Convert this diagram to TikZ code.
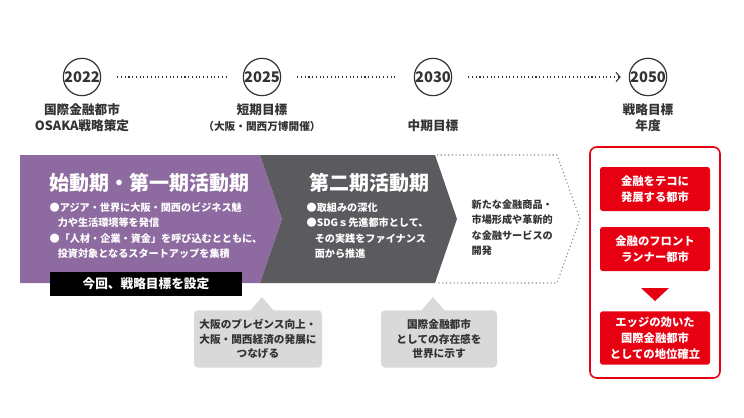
\documentclass[tikz,border=0pt]{standalone}
\usepackage{fontspec}
\setmainfont{Noto Sans CJK JP}
\usetikzlibrary{arrows.meta}
\definecolor{purp}{HTML}{8D6A9F}
\definecolor{dgray}{HTML}{5B5B5F}
\definecolor{lgray}{HTML}{D9D9D9}
\definecolor{red1}{HTML}{E60012}
\definecolor{txt}{HTML}{333333}
\tikzset{
 yr/.style={circle,draw=txt,line width=0.9pt,minimum size=27pt,inner sep=0pt,font=\bfseries\fontsize{11}{11}\selectfont,text=txt},
 lbl/.style={align=center,font=\bfseries\fontsize{9.5}{12}\selectfont,text=txt},
 dots/.style={dotted,line width=0.8pt,draw=txt},
 rbox/.style={fill=red1,text=white,rounded corners=2pt,align=center,font=\bfseries\fontsize{8.5}{12}\selectfont,minimum width=82.5pt},
 cbox/.style={fill=lgray,rounded corners=3pt,align=center,font=\bfseries\fontsize{8}{11}\selectfont,text=txt,minimum width=96pt,minimum height=43pt}
}
\begin{document}
\begin{tikzpicture}[x=0.75pt,y=-0.75pt]
\useasboundingbox (0,0) rectangle (744,418);
% timeline
\node[yr] (y1) at (82,77) {2022};
\node[yr] (y2) at (262,77) {2025};
\node[yr] (y3) at (433,77) {2030};
\node[yr] (y4) at (648,77) {2050};
\draw[dots] ([xshift=12pt]y1.east) -- ([xshift=-12pt]y2.west);
\draw[dots] ([xshift=12pt]y2.east) -- ([xshift=-12pt]y3.west);
\draw[dots,-{Straight Barb[length=3pt,width=7pt]}] ([xshift=12pt]y3.east) -- ([xshift=-6pt]y4.west);
\node[lbl] (l1) at (82,118) {国際金融都市\\OSAKA戦略策定};
\node[lbl] (l2) at (262,118) {短期目標\\{\fontsize{8}{12}\selectfont（大阪・関西万博開催）}};
\node[lbl] (l3) at (433,126) {中期目標};
\node[lbl] (l4) at (648,118) {戦略目標\\年度};
% bands
\fill[purp] (20,155) -- (260,155) -- (282,219) -- (260,283) -- (20,283) -- cycle;
\fill[dgray] (260,155) -- (435,155) -- (457,219) -- (435,283) -- (260,283) -- (282,219) -- cycle;
\draw[dots,draw=gray] (437,155) -- (557,155) -- (580,219) -- (557,283) -- (437,283);
\node[anchor=west,text=white,font=\bfseries\fontsize{15}{15}\selectfont] (t1) at (45,183) {始動期・第一期活動期};
\node[anchor=north west,text=white,align=left,font=\bfseries\fontsize{7.6}{11.5}\selectfont] (b1) at (45,198) {●アジア・世界に大阪・関西のビジネス魅\\\hspace{0.8em}力や生活環境等を発信\\●「人材・企業・資金」を呼び込むとともに、\\\hspace{0.8em}投資対象となるスタートアップを集積};
\node[anchor=west,text=white,font=\bfseries\fontsize{15}{15}\selectfont] (t2) at (305,183) {第二期活動期};
\node[anchor=north west,text=white,align=left,font=\bfseries\fontsize{7.6}{11.5}\selectfont] (b2) at (302,198) {●取組みの深化\\●SDGｓ先進都市として、\\\hspace{0.8em}その実践をファイナンス\\\hspace{0.8em}面から推進};
\node[anchor=north west,text=txt,align=left,font=\bfseries\fontsize{7.6}{11.5}\selectfont] (b3) at (467,195) {新たな金融商品・\\市場形成や革新的\\な金融サービスの\\開発};
\node[fill=black,text=white,font=\bfseries\fontsize{9.5}{12}\selectfont,minimum width=144pt,minimum height=18pt] (k) at (146,284) {今回、戦略目標を設定};
% callouts
\node[cbox] (c1) at (258,339) {大阪のプレゼンス向上・\\大阪・関西経済の発展に\\つなげる};
\fill[lgray] (250,311) -- (262,297) -- (274,311) -- cycle;
\node[cbox,minimum width=87pt] (c2) at (439,339) {国際金融都市\\としての存在感を\\世界に示す};
\fill[lgray] (421,311) -- (433,297) -- (445,311) -- cycle;
% red
\draw[red1,line width=1.2pt,rounded corners=5pt] (590,147) rectangle (720,378);
\node[rbox,minimum height=33pt] (r1) at (655,189) {金融をテコに\\発展する都市};
\node[rbox,minimum height=33pt] (r2) at (655,249) {金融のフロント\\ランナー都市};
\fill[red1] (641,288) -- (669,288) -- (655,301) -- cycle;
\node[rbox,minimum height=40pt] (r3) at (655,338) {エッジの効いた\\国際金融都市\\としての地位確立};
\end{tikzpicture}
\end{document}
